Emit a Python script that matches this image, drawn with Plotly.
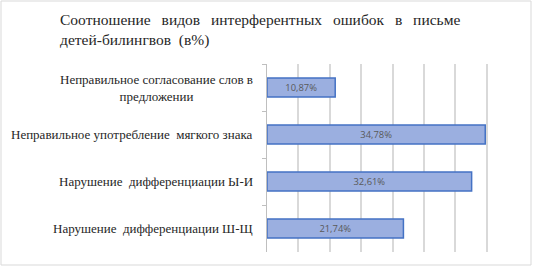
import plotly.graph_objects as go

categories = [
    "Неправильное согласование слов в<br>предложении",
    "Неправильное употребление  мягкого знака",
    "Нарушение  дифференциации Ы-И",
    "Нарушение  дифференциации Ш-Щ",
]
values = [10.87, 34.78, 32.61, 21.74]
title_lines = ["Соотношение видов интерферентных ошибок в письме", "детей-билингвов (в%)"]

W, H = 533, 268
L, R, T, B = 267, 15, 64, 16
PW, PH = W - L - R, H - T - B
SERIF = "Liberation Serif, Times New Roman, serif"

fig = go.Figure()
fig.add_trace(go.Bar(
    y=categories, x=values, orientation="h",
    marker=dict(color="#9BAFE0", line=dict(color="#4472C4", width=1.5)),
    texttemplate="%{x:.2f}%", textposition="inside", insidetextanchor="middle",
    textfont=dict(family="Open Sans", size=11, color="#595959"),
    hoverinfo="skip",
))

for c in categories:
    fig.add_annotation(
        x=-12 / PW, xref="paper", y=c, yref="y",
        text=c.replace("  ", "\u00a0 "), showarrow=False, xanchor="right", align="center",
        font=dict(family=SERIF, size=13, color="#262626"),
    )

title_text = "<br>".join([title_lines[0].replace(" ", "\u00a0\u2009 "),
                          title_lines[1].replace(" (", "\u00a0 (")])
fig.add_annotation(
    x=(58 - L) / PW, xref="paper", y=1 + (T - 9) / PH, yref="paper",
    text=title_text, showarrow=False, xanchor="left", yanchor="top",
    align="left", font=dict(family=SERIF, size=15.5, color="#262626"),
)

fig.update_layout(
    width=W, height=H,
    margin=dict(l=L, r=R, t=T, b=B, autoexpand=False),
    paper_bgcolor="white", plot_bgcolor="white",
    separators=",.",
    bargap=0.6,
    showlegend=False,
    xaxis=dict(range=[0, 40], dtick=5, showgrid=True, gridcolor="#d9d9d9",
               gridwidth=1.5, showticklabels=False, zeroline=False,
               showline=False, fixedrange=True),
    yaxis=dict(autorange="reversed", showticklabels=False, showgrid=False,
               showline=True, linecolor="#bfbfbf", linewidth=1,
               ticks="outside", tickson="boundaries", ticklen=4,
               tickcolor="#bfbfbf", zeroline=False),
    shapes=[dict(type="rect", xref="paper", yref="paper",
                 x0=(1 - L) / PW, x1=(531 - L) / PW,
                 y0=-(265 - (H - B)) / PH, y1=1 + (T - 1) / PH,
                 line=dict(color="#d9d9d9", width=1))],
)

fig.write_html("out.html", config={"displayModeBar": False},
               post_script="document.body.style.margin='0';")
